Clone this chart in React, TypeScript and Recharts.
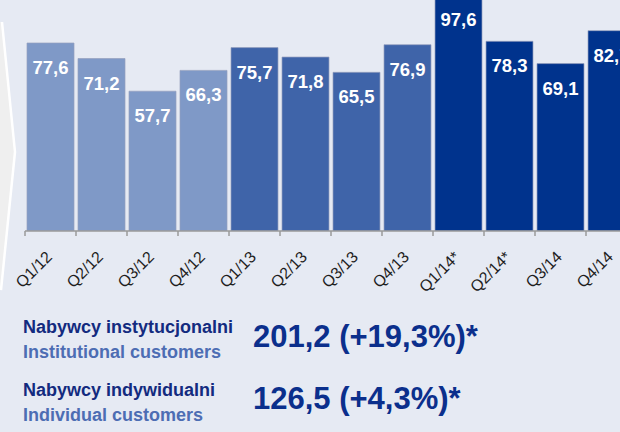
import { Bar, BarChart, Cell, LabelList, XAxis, YAxis } from "recharts";

const quarters = [
  "Q1/12", "Q2/12", "Q3/12", "Q4/12",
  "Q1/13", "Q2/13", "Q3/13", "Q4/13",
  "Q1/14*", "Q2/14*", "Q3/14", "Q4/14",
];
const volumes = [77.6, 71.2, 57.7, 66.3, 75.7, 71.8, 65.5, 76.9, 97.6, 78.3, 69.1, 82.7];
const yearOf = ["2012", "2012", "2012", "2012", "2013", "2013", "2013", "2013", "2014", "2014", "2014", "2014"];

const summaryRows = [
  { pl: "Nabywcy instytucjonalni", en: "Institutional customers", value: "201,2 (+19,3%)*" },
  { pl: "Nabywcy indywidualni", en: "Individual customers", value: "126,5 (+4,3%)*" },
];

const yearColors: Record<string, string> = {
  "2012": "#7f99c7",
  "2013": "#3f64a9",
  "2014": "#00338d",
};

const FONT = "'Liberation Sans', Arial, sans-serif";
const BAND = 51;

const data = quarters.map((label, i) => ({ label, value: volumes[i], year: yearOf[i] }));

const fmt = (v: number) => v.toFixed(1).replace(".", ",");

function QuarterTick(props: any) {
  const { x, y, payload } = props;
  const edge = x - BAND / 2;
  const tx = x + 2.5;
  const ty = y + 27;
  return (
    <g>
      <line x1={edge} y1={y} x2={edge} y2={y + 5} stroke="#9a9a9a" strokeWidth={1.5} />
      <text
        x={tx}
        y={ty}
        transform={`rotate(-45 ${tx} ${ty})`}
        textAnchor="end"
        fontSize={16}
        fontFamily={FONT}
        fill="#1e1e1e"
      >
        {payload.value}
      </text>
    </g>
  );
}

function ValueLabel(props: any) {
  const { x, y, width, value } = props;
  return (
    <text
      x={x + width / 2}
      y={y + 31}
      textAnchor="middle"
      fontSize={18.5}
      fontWeight="bold"
      fontFamily={FONT}
      fill="#ffffff"
    >
      {fmt(value)}
    </text>
  );
}

export default function App() {
  return (
    <div
      style={{
        position: "absolute",
        top: 0,
        left: 0,
        width: 620,
        height: 432,
        overflow: "hidden",
        background: "#e6eaf3",
      }}
    >
      <svg width={620} height={432} style={{ position: "absolute", top: 0, left: 0 }}>
        <polygon points="0,22 2,22 15,152 1,290 0,290" fill="#efefef" />
        <polyline points="2,22 15,152 1,290" fill="none" stroke="#ffffff" strokeWidth={2.5} />
        {summaryRows.map((row, i) => {
          const top = i * 63;
          return (
            <g key={row.pl} fontFamily={FONT} fontWeight="bold">
              <text x={23} y={333 + top} fontSize={18} fill="#132b7f">
                {row.pl}
              </text>
              <text x={23} y={358 + top} fontSize={18} fill="#4d6db3">
                {row.en}
              </text>
              <text x={253} y={347 + top - (i ? 1 : 0)} fontSize={31} fill="#0b2f8c">
                {row.value}
              </text>
            </g>
          );
        })}
      </svg>
      <div style={{ position: "absolute", top: 0, left: 0 }}>
        <BarChart
          width={640}
          height={300}
          data={data}
          margin={{ top: 0, right: 3, left: 25, bottom: 0 }}
          barSize={47}
        >
          <YAxis hide domain={[0, 95.35]} allowDataOverflow />
          <XAxis
            dataKey="label"
            height={69}
            interval={0}
            tickLine={false}
            tickSize={0}
            tickMargin={0}
            axisLine={{ stroke: "#9a9a9a", strokeWidth: 1.5 }}
            tick={<QuarterTick />}
          />
          <Bar
            dataKey="value"
            isAnimationActive={false}
            stroke="rgba(150,160,190,0.7)"
            strokeWidth={1}
          >
            {data.map((d) => (
              <Cell key={d.label} fill={yearColors[d.year]} />
            ))}
            <LabelList dataKey="value" content={<ValueLabel />} />
          </Bar>
        </BarChart>
      </div>
    </div>
  );
}
